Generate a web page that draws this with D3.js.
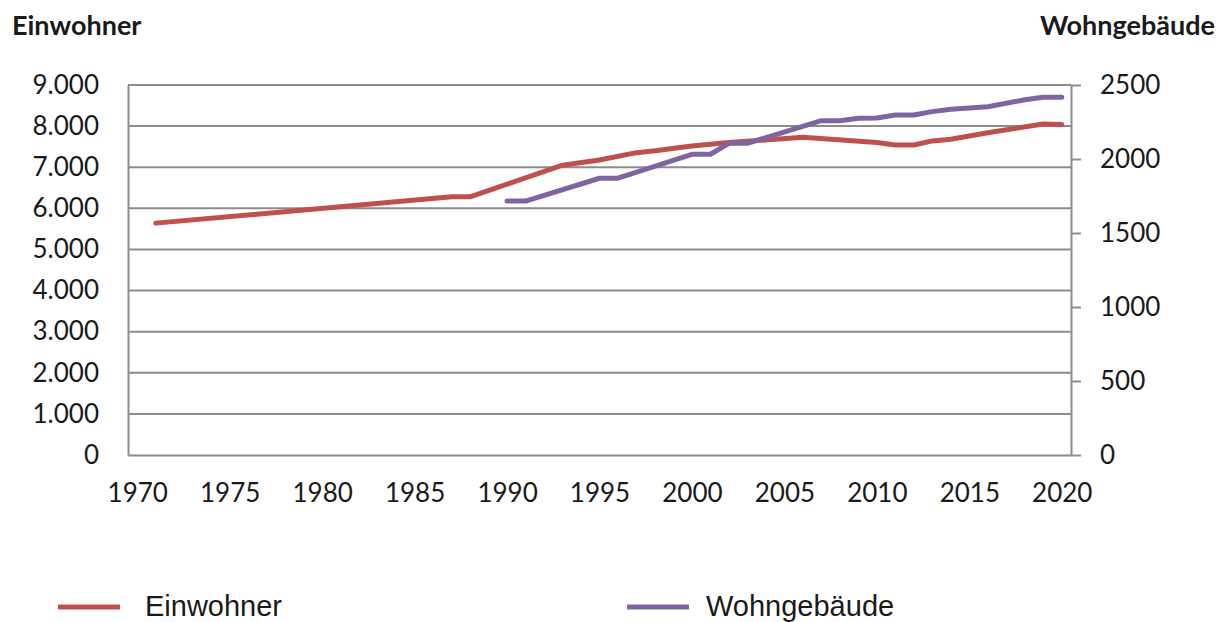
<!DOCTYPE html>
<meta charset="utf-8">
<style>
  body { margin: 0; background: #fff; }
  svg text { fill: #1a1a1a; }
</style>
<body>
<script src="https://d3js.org/d3.v7.min.js"></script>
<script>

// Einwohner (left axis) - vertices
var einwohnerYears  = [1971, 1987, 1988, 1993, 1995, 1997, 1998, 2000, 2002, 2006, 2010, 2011, 2012, 2013, 2014, 2016, 2019, 2020];
var einwohnerValues = [5640, 6280, 6280, 7050, 7175, 7354, 7400, 7515, 7600, 7730, 7600, 7540, 7540, 7640, 7680, 7840, 8050, 8040];

// Wohngebaeude (right axis)
var gebaeudeYears  = [1990, 1991, 1995, 1996, 2000, 2001, 2002, 2003, 2007, 2008, 2009, 2010, 2011, 2012, 2013, 2014, 2016, 2018, 2019, 2020];
var gebaeudeValues = [1716, 1716, 1870, 1870, 2032, 2032, 2106, 2106, 2259, 2259, 2275, 2277, 2297, 2297, 2320, 2336, 2353, 2400, 2417, 2417];

// tick labels
var yearTicks   = [1970, 1975, 1980, 1985, 1990, 1995, 2000, 2005, 2010, 2015, 2020];
var leftTicks   = [0, 1000, 2000, 3000, 4000, 5000, 6000, 7000, 8000, 9000];
var rightTicks  = [0, 500, 1000, 1500, 2000, 2500];
var legendNames = ["Einwohner", "Wohngebäude"];
var colors      = ["#c0504d", "#8064a2"];

var margin = {top: 85, left: 128},
    width = 943,
    height = 370;

var svg = d3.select("body").append("svg")
    .attr("width", 1226)
    .attr("height", 622);

var g = svg.append("g")
    .attr("transform", "translate(" + margin.left + "," + margin.top + ")");

var x = d3.scaleLinear().domain([1969.5, 2020.5]).range([0, width]);
var yL = d3.scaleLinear().domain([0, 9000]).range([height, 0]);
var yR = d3.scaleLinear().domain([0, 2500]).range([height, 0]);

var de = d3.formatLocale({decimal: ",", thousands: ".", grouping: [3], currency: ["", " €"]});

// gridlines
g.selectAll(".grid")
  .data(leftTicks.filter(function(d) { return d > 0; }))
  .enter().append("line")
  .attr("x1", 0).attr("x2", width)
  .attr("y1", function(d) { return yL(d); })
  .attr("y2", function(d) { return yL(d); })
  .attr("stroke", "#8c8c8c")
  .attr("stroke-width", 2);

// left axis
var leftAxis = g.append("g")
  .call(d3.axisLeft(yL).tickValues(leftTicks).tickSize(0).tickPadding(29).tickFormat(de.format(",")));
leftAxis.select(".domain").attr("stroke", "#8c8c8c").attr("stroke-width", 2);

// right axis
var rightAxis = g.append("g")
  .attr("transform", "translate(" + width + ",0)")
  .call(d3.axisRight(yR).tickValues(rightTicks).tickSizeInner(10).tickSizeOuter(0).tickPadding(19).tickFormat(d3.format("d")));
rightAxis.select(".domain").attr("stroke", "#8c8c8c").attr("stroke-width", 2);
rightAxis.selectAll(".tick line").attr("stroke", "#8c8c8c").attr("stroke-width", 2);

// bottom axis
var bottomAxis = g.append("g")
  .attr("transform", "translate(0," + height + ")")
  .call(d3.axisBottom(x).tickValues(yearTicks).tickSize(0).tickPadding(29).tickFormat(d3.format("d")));
bottomAxis.select(".domain").attr("stroke", "#8c8c8c").attr("stroke-width", 2);

svg.selectAll(".tick text")
  .style("font-family", "Lato, sans-serif")
  .style("font-size", "26px")
  .attr("fill", "#1a1a1a");

// lines
var lineL = d3.line()
  .x(function(d, i) { return x(einwohnerYears[i]); })
  .y(function(d) { return yL(d); });
var lineR = d3.line()
  .x(function(d, i) { return x(gebaeudeYears[i]); })
  .y(function(d) { return yR(d); });

g.append("path")
  .datum(einwohnerValues)
  .attr("d", lineL)
  .attr("fill", "none")
  .attr("stroke", colors[0])
  .attr("stroke-width", 5)
  .attr("stroke-linejoin", "round")
  .attr("stroke-linecap", "round");

g.append("path")
  .datum(gebaeudeValues)
  .attr("d", lineR)
  .attr("fill", "none")
  .attr("stroke", colors[1])
  .attr("stroke-width", 5)
  .attr("stroke-linejoin", "round")
  .attr("stroke-linecap", "round");

// axis titles
svg.append("text")
  .attr("x", 12).attr("y", 35)
  .style("font-family", "Lato, sans-serif")
  .style("font-size", "27px")
  .style("font-weight", "bold")
  .text("Einwohner");

svg.append("text")
  .attr("x", 1215).attr("y", 35)
  .attr("text-anchor", "end")
  .style("font-family", "Lato, sans-serif")
  .style("font-size", "27px")
  .style("font-weight", "bold")
  .text("Wohngebäude");

// legend
var legendX = [58, 627];
var legend = svg.selectAll(".legend")
  .data(legendNames)
  .enter().append("g")
  .attr("transform", function(d, i) { return "translate(" + legendX[i] + ",607)"; });

legend.append("line")
  .attr("x1", 0).attr("x2", 62)
  .attr("stroke", function(d, i) { return colors[i]; })
  .attr("stroke-width", 5);

legend.append("text")
  .attr("x", function(d, i) { return i === 0 ? 87 : 79; })
  .attr("y", 9)
  .style("font-family", "'Liberation Sans Narrow', 'Liberation Sans', sans-serif")
  .style("font-size", "29px")
  .text(function(d) { return d; });

</script>
</body>
</html>
